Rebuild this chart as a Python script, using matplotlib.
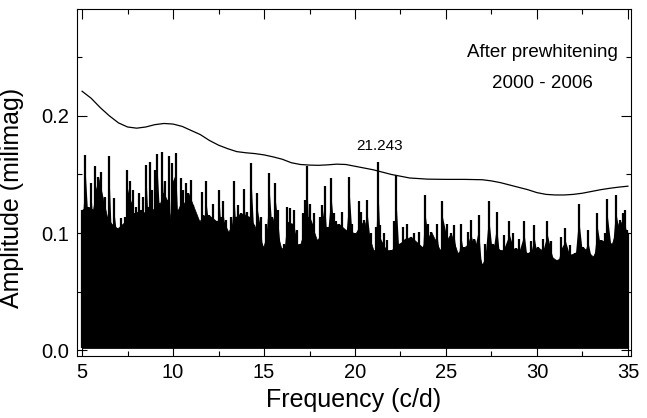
import matplotlib
matplotlib.use("Agg")
import matplotlib.pyplot as plt
from matplotlib.ticker import MultipleLocator

plt.rcParams['font.family'] = ['Liberation Sans', 'DejaVu Sans']

# Amplitude spectrum after prewhitening (upper outline)
freq = [5.00, 5.18, 5.33, 5.51, 5.60, 5.70, 5.88, 6.03, 6.25, 6.37, 6.48, 6.61, 6.76, 6.94,
        7.16, 7.34, 7.49, 7.62, 7.80, 7.89, 7.99, 8.13, 8.26, 8.35, 8.44, 8.53, 8.63, 8.72,
        8.85, 8.94, 9.03, 9.08, 9.14, 9.27, 9.40, 9.49, 9.58, 9.67, 9.76, 9.87, 9.96,
        10.15, 10.27, 10.42, 10.49, 10.57, 10.64, 10.71, 10.84, 10.99, 11.12, 11.30, 11.45,
        11.57, 11.67, 11.79, 11.99, 12.18, 12.40, 12.55, 12.64, 12.77, 12.91, 13.04, 13.19,
        13.35, 13.46, 13.59, 13.72, 13.88, 14.05, 14.18, 14.29, 14.45, 14.63, 14.82, 14.96,
        15.11, 15.29, 15.44, 15.62, 15.77, 15.95, 16.08, 16.26, 16.45, 16.63, 16.81, 17.00,
        17.12, 17.27, 17.36, 17.45, 17.55, 17.73, 17.91, 18.10, 18.19, 18.33, 18.46, 18.68,
        18.83, 18.96, 19.10, 19.29, 19.47, 19.69, 19.84, 20.02,
        20.22, 20.35, 20.49, 20.68, 20.86, 21.01, 21.15, 21.243, 21.37, 21.59, 21.78, 22.00,
        22.14, 22.23, 22.42, 22.66, 22.88, 23.06, 23.24, 23.52, 23.70, 23.83, 24.01, 24.19,
        24.52, 24.67, 24.80, 25.04,
        25.27, 25.46, 25.64, 25.82, 26.01, 26.19, 26.37, 26.56, 26.79, 26.98, 27.16, 27.34,
        27.56, 27.78, 27.97, 28.21, 28.48, 28.66, 28.85, 29.03, 29.30, 29.49, 29.67, 29.85,
        30.04, 30.33, 30.57, 30.79, 31.06, 31.34, 31.56, 31.80, 32.07, 32.29, 32.53, 32.80,
        33.08, 33.32, 33.53, 33.72, 33.86, 34.12, 34.32, 34.54, 34.73, 34.85, 34.96, 35.00]
amp = [0.120, 0.167, 0.1225, 0.1425, 0.120, 0.157, 0.148, 0.152, 0.131, 0.114, 0.166, 0.108,
       0.130, 0.104, 0.1125, 0.114, 0.154, 0.144, 0.137, 0.117, 0.1225, 0.134, 0.120, 0.131,
       0.117, 0.158, 0.1225, 0.161, 0.137, 0.120, 0.154, 0.128, 0.1675, 0.125, 0.1695, 0.134,
       0.144, 0.128, 0.166, 0.111, 0.160,
       0.168, 0.120, 0.147, 0.128, 0.137, 0.125, 0.1425, 0.134, 0.145, 0.124, 0.111, 0.110,
       0.135, 0.115, 0.144, 0.115, 0.125, 0.110, 0.137, 0.114, 0.127, 0.111, 0.101, 0.114,
       0.144, 0.114, 0.124, 0.117, 0.138, 0.118, 0.114, 0.160, 0.107, 0.134, 0.114, 0.088,
       0.108, 0.151, 0.114, 0.1425, 0.120, 0.087, 0.091, 0.1225, 0.121, 0.120, 0.103, 0.091,
       0.117, 0.128, 0.157, 0.114, 0.125, 0.117, 0.094, 0.114, 0.124, 0.140, 0.105, 0.147,
       0.117, 0.110, 0.108, 0.118, 0.103, 0.148, 0.108, 0.0997,
       0.127, 0.118, 0.111, 0.128, 0.0997, 0.0855, 0.105, 0.161, 0.107, 0.0997, 0.094, 0.0855,
       0.110, 0.1495, 0.091, 0.105, 0.108, 0.097, 0.0997, 0.101, 0.088, 0.1325, 0.108, 0.101,
       0.108, 0.0855, 0.127, 0.108,
       0.0997, 0.107, 0.083, 0.108, 0.088, 0.101, 0.111, 0.095, 0.115, 0.073, 0.091, 0.127,
       0.091, 0.118, 0.0855, 0.098, 0.110, 0.0997, 0.087, 0.095, 0.110, 0.083, 0.093, 0.107,
       0.088, 0.095, 0.110, 0.093, 0.077, 0.097, 0.104, 0.090, 0.083, 0.125, 0.088, 0.103,
       0.080, 0.117, 0.094, 0.0997, 0.129, 0.091, 0.1325, 0.111, 0.117, 0.120, 0.103, 0.100]
noise_floor = 0.002

# Significance (4 x noise) curve
sig_freq = [5, 5.5, 6, 6.5, 7, 7.5, 8, 8.5, 9, 9.5, 10, 10.5, 11, 11.5, 12, 12.5, 13, 13.5,
            14, 14.5, 15, 15.5, 16, 16.5, 17, 17.5, 18, 18.5, 19, 19.5, 20, 20.5, 21, 21.5,
            22, 22.5, 23, 23.5, 24, 25, 26, 27, 27.5, 28, 28.5, 29, 29.5, 30, 30.5, 31, 31.5,
            32, 32.5, 33, 33.5, 34, 34.5, 35]
sig_amp = [0.221, 0.215, 0.207, 0.200, 0.194, 0.1905, 0.1895, 0.1905, 0.1925, 0.1935, 0.193,
           0.191, 0.1875, 0.184, 0.179, 0.175, 0.172, 0.1695, 0.1685, 0.1678, 0.1667, 0.165,
           0.163, 0.160, 0.1585, 0.158, 0.1578, 0.1582, 0.1588, 0.1585, 0.157, 0.1555, 0.154,
           0.152, 0.150, 0.1485, 0.147, 0.1465, 0.146, 0.1458, 0.1458, 0.1455, 0.1445, 0.143,
           0.141, 0.139, 0.137, 0.1345, 0.133, 0.1325, 0.1325, 0.133, 0.134, 0.1355, 0.137,
           0.1382, 0.1392, 0.140]

peak_label = "21.243"
peak_pos = (21.35, 0.168)

fig = plt.figure(figsize=(6.47, 4.18), dpi=100)
ax = fig.add_axes([0.119, 0.148, 0.856, 0.830])

# solid body of the spectrum: join the local minima of the outline
n = len(amp)
base_f, base_a = [], []
for i in range(n):
    lo = amp[i - 1] if i > 0 else amp[i] + 1
    hi = amp[i + 1] if i < n - 1 else amp[i] + 1
    if amp[i] <= lo and amp[i] <= hi or i in (0, n - 1):
        base_f.append(freq[i])
        base_a.append(amp[i])
ax.fill_between(base_f, noise_floor, base_a, color='black', linewidth=0.5,
                edgecolor='black')
# narrow peaks rising from the body
ax.vlines(freq, noise_floor, amp, color='black', linewidth=1.6)
ax.fill_between(freq, noise_floor, [a * 0.9 for a in amp], color='black', linewidth=0)

ax.plot(sig_freq, sig_amp, color='black', linewidth=0.9)

ax.text(peak_pos[0], peak_pos[1], peak_label, ha='center', va='bottom', fontsize=11)
ax.text(0.84, 0.875, "After prewhitening", transform=ax.transAxes, ha='center',
        va='center', fontsize=13.5)
ax.text(0.84, 0.785, "2000 - 2006", transform=ax.transAxes, ha='center',
        va='center', fontsize=13.5)

ax.set_xlim(4.72, 35.16)
ax.set_ylim(-0.005, 0.291)
ax.xaxis.set_major_locator(MultipleLocator(5))
ax.xaxis.set_minor_locator(MultipleLocator(2.5))
ax.yaxis.set_major_locator(MultipleLocator(0.1))
ax.yaxis.set_minor_locator(MultipleLocator(0.05))
ax.tick_params(which='both', direction='in', top=True, right=True, width=0.8,
               labelsize=14.5)
ax.tick_params(which='major', length=7)
ax.tick_params(which='minor', length=3.6)
ax.tick_params(axis='y', pad=6)
ax.tick_params(axis='x', pad=5)
for s in ax.spines.values():
    s.set_linewidth(0.8)

ax.set_xlabel("Frequency (c/d)", fontsize=18)
ax.set_ylabel("Amplitude (milimag)", fontsize=18)
ax.yaxis.set_label_coords(-0.095, 0.455)

fig.savefig("out.png", dpi=100)
